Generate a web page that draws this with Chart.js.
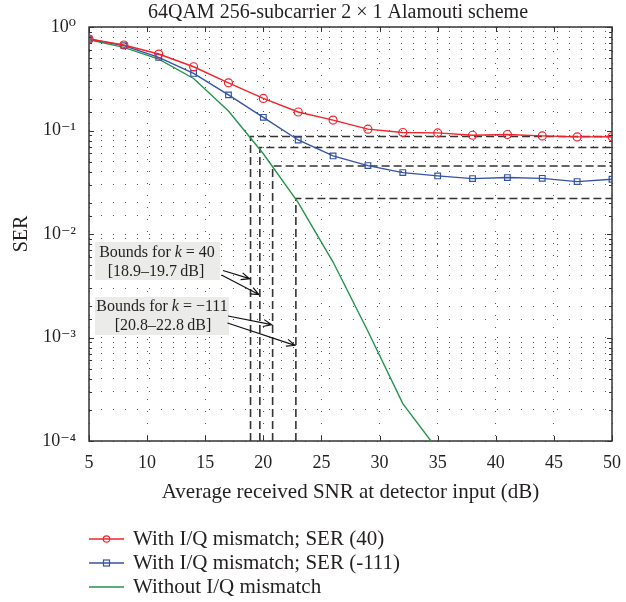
<!DOCTYPE html>
<html lang="en">
<head>
  <meta charset="UTF-8">
  <title>64QAM 256-subcarrier 2 × 1 Alamouti scheme</title>
  <script src="https://cdn.jsdelivr.net/npm/chart.js"></script>
  <style>
    html, body { margin: 0; padding: 0; background: #fff; }
    #wrap { width: 626px; height: 602px; }
  </style>
</head>
<body>

  <div id="wrap"><canvas id="serChart" width="626" height="602"></canvas></div>

  <script>
    // SNR (dB) sample points and SER values
    const snr = [5, 8, 11, 14, 17, 20, 23, 26, 29, 32, 35, 38, 41, 44, 47, 50];
    const serK40 = [0.765, 0.67, 0.548, 0.413, 0.289, 0.204, 0.151, 0.126, 0.103, 0.0957, 0.0948, 0.090, 0.0915, 0.0887, 0.0867, 0.087];
    const serK111 = [0.765, 0.66, 0.508, 0.356, 0.221, 0.134, 0.081, 0.0568, 0.0458, 0.0392, 0.0364, 0.0343, 0.0351, 0.0345, 0.0321, 0.0338];
    const snrIdeal = [5, 8, 11, 14, 17, 20, 23, 26, 29, 32, 35];
    const serIdeal = [0.753, 0.636, 0.49, 0.318, 0.154, 0.0596, 0.0201, 0.00536, 0.00115, 0.00023, 0.000082];

    // SNR bounds and the SER floors they come from
    const boundSnr = [18.9, 19.7, 20.8, 22.8];
    const boundSer = [0.0875, 0.0685, 0.0454, 0.022];

    const yTicks = [1e-4, 1e-3, 1e-2, 1e-1, 1];
    const yTickLabels = ['10⁻⁴', '10⁻³', '10⁻²', '10⁻¹', '10⁰'];

    const seriesNames = ['With I/Q mismatch; SER (40)', 'With I/Q mismatch; SER (-111)', 'Without I/Q mismatch'];

    const SERIF = '"Liberation Serif", "DejaVu Serif", serif';
    const INK = '#231f20';
    const RED = '#f2232b';
    const BLUE = '#3553a6';
    const GREEN = '#23954a';

    const toPoints = (xs, ys) => xs.map((x, i) => ({ x: x, y: ys[i] }));

    const boundSets = boundSnr.map((s, i) => ({
      label: 'bound ' + s,
      data: [{ x: s, y: 1e-4 }, { x: s, y: boundSer[i] }, { x: 50, y: boundSer[i] }],
      borderColor: '#333',
      borderWidth: 1.6,
      borderDash: [8, 4],
      pointRadius: 0,
      order: 5,
      isBound: true
    }));

    // frame + inward tick marks like the original
    const framePlugin = {
      id: 'frame',
      beforeDatasetsDraw(chart) {
        const { ctx, chartArea: a, scales: { x, y } } = chart;
        ctx.save();
        ctx.strokeStyle = '#333';
        ctx.lineWidth = 1;
        ctx.beginPath();
        x.ticks.forEach(t => {
          const px = Math.round(x.getPixelForValue(t.value)) + 0.5;
          ctx.moveTo(px, a.bottom); ctx.lineTo(px, a.bottom - 5);
          ctx.moveTo(px, a.top); ctx.lineTo(px, a.top + 5);
        });
        y.ticks.forEach(t => {
          const py = Math.round(y.getPixelForValue(t.value)) + 0.5;
          const len = t.label ? 5 : 3;
          ctx.moveTo(a.left, py); ctx.lineTo(a.left + len, py);
          ctx.moveTo(a.right, py); ctx.lineTo(a.right - len, py);
        });
        ctx.stroke();
        ctx.lineWidth = 1.5;
        ctx.strokeRect(a.left, a.top, a.right - a.left, a.bottom - a.top);
        ctx.restore();
      }
    };

    function arrow(ctx, x0, y0, x1, y1) {
      const ang = Math.atan2(y1 - y0, x1 - x0);
      const h = 9, spread = 0.4;
      ctx.beginPath();
      ctx.moveTo(x0, y0); ctx.lineTo(x1, y1);
      ctx.moveTo(x1 - h * Math.cos(ang - spread), y1 - h * Math.sin(ang - spread));
      ctx.lineTo(x1, y1);
      ctx.lineTo(x1 - h * Math.cos(ang + spread), y1 - h * Math.sin(ang + spread));
      ctx.stroke();
    }

    function boundsText(ctx, cx, baseline, kValue) {
      const parts = [['Bounds for ', 'normal'], ['k', 'italic'], [' = ' + kValue, 'normal']];
      let w = 0;
      parts.forEach(p => { ctx.font = p[1] + ' 16px ' + SERIF; w += ctx.measureText(p[0]).width; });
      let x = cx - w / 2;
      ctx.textAlign = 'left';
      parts.forEach(p => {
        ctx.font = p[1] + ' 16px ' + SERIF;
        ctx.fillText(p[0], x, baseline);
        x += ctx.measureText(p[0]).width;
      });
    }

    // title, annotation boxes with arrows, and the legend below the axes
    const notesPlugin = {
      id: 'notes',
      afterDatasetsDraw(chart) {
        const { ctx, scales: { x, y } } = chart;
        ctx.save();
        ctx.fillStyle = '#ebebea';
        ctx.fillRect(95, 242, 125, 38);
        ctx.fillRect(95, 297, 134, 38);

        ctx.fillStyle = INK;
        ctx.textBaseline = 'alphabetic';
        boundsText(ctx, 157, 257, '40');
        boundsText(ctx, 162, 311, '\u2212111');
        ctx.font = '16px ' + SERIF;
        ctx.textAlign = 'center';
        ctx.fillText('[18.9\u201319.7\u2009dB]', 156, 276);
        ctx.fillText('[20.8\u201322.8\u2009dB]', 163, 330);

        ctx.strokeStyle = '#111';
        ctx.lineWidth = 1.2;
        arrow(ctx, 223, 270.5, x.getPixelForValue(boundSnr[0]) - 1, y.getPixelForValue(0.0037));
        arrow(ctx, 221.5, 275, x.getPixelForValue(boundSnr[1]) - 1, y.getPixelForValue(0.0026));
        arrow(ctx, 228, 316, x.getPixelForValue(boundSnr[2]) - 1, y.getPixelForValue(0.00133));
        arrow(ctx, 227.5, 323, x.getPixelForValue(boundSnr[3]) - 1, y.getPixelForValue(0.00084));
        ctx.restore();
      },
      afterDraw(chart) {
        const { ctx } = chart;
        ctx.save();
        ctx.fillStyle = INK;
        ctx.font = '20px ' + SERIF;
        ctx.textAlign = 'center';
        ctx.textBaseline = 'middle';
        ctx.fillText('64QAM 256-subcarrier 2 \u00d7 1 Alamouti scheme', 338, 13);

        ctx.textAlign = 'left';
        ctx.font = '21px ' + SERIF;
        const rows = [539, 563, 587];
        chart.data.datasets.filter(d => !d.isBound).forEach((d, i) => {
          const yy = rows[i];
          ctx.strokeStyle = d.borderColor;
          ctx.lineWidth = 1.5;
          ctx.beginPath();
          ctx.moveTo(89, yy); ctx.lineTo(124, yy);
          ctx.stroke();
          ctx.lineWidth = 1.2;
          if (d.pointStyle === 'circle' && d.pointRadius > 0) {
            ctx.beginPath(); ctx.arc(106.5, yy, 3.2, 0, Math.PI * 2); ctx.stroke();
          } else if (d.pointStyle === 'rect') {
            ctx.strokeRect(103.5, yy - 3, 6, 6);
          }
          ctx.fillStyle = INK;
          ctx.fillText(d.label, 133, yy);
        });
        ctx.restore();
      }
    };

    new Chart(document.getElementById('serChart'), {
      type: 'line',
      data: {
        datasets: [
          {
            label: seriesNames[0],
            data: toPoints(snr, serK40),
            borderColor: RED,
            borderWidth: 1.4,
            pointStyle: 'circle',
            pointRadius: 4,
            pointBorderWidth: 1.2,
            pointBackgroundColor: 'rgba(0,0,0,0)',
            order: 1
          },
          {
            label: seriesNames[1],
            data: toPoints(snr, serK111),
            borderColor: BLUE,
            borderWidth: 1.4,
            pointStyle: 'rect',
            pointRadius: 4,
            pointBorderWidth: 1.2,
            pointBackgroundColor: 'rgba(0,0,0,0)',
            order: 2
          },
          {
            label: seriesNames[2],
            data: toPoints(snrIdeal, serIdeal),
            borderColor: GREEN,
            borderWidth: 1.4,
            pointStyle: 'circle',
            pointRadius: 0,
            order: 3
          },
          ...boundSets
        ]
      },
      options: {
        responsive: false,
        animation: false,
        layout: { padding: { top: 27, right: 14, bottom: 97, left: 0 } },
        plugins: {
          legend: { display: false },
          title: { display: false },
          tooltip: { enabled: false }
        },
        scales: {
          x: {
            type: 'linear',
            min: 5,
            max: 50,
            afterFit: s => { s.height = 64; s.paddingLeft = 0; s.paddingRight = 0; },
            border: { display: false, dash: [1, 11] },
            grid: { color: '#555', lineWidth: 1, drawTicks: false },
            ticks: { stepSize: 5, padding: 11, color: INK, font: { family: SERIF, size: 18 } },
            title: {
              display: true,
              text: 'Average received SNR at detector input (dB)',
              color: INK,
              padding: { top: 0, bottom: 0 },
              font: { family: SERIF, size: 21 }
            }
          },
          y: {
            type: 'logarithmic',
            min: 1e-4,
            max: 1,
            afterFit: s => { s.width = 89; s.paddingTop = 0; s.paddingBottom = 0; },
            border: { display: false, dash: [1, 11] },
            grid: { color: '#555', lineWidth: 1, drawTicks: false },
            ticks: {
              autoSkip: false,
              padding: 13,
              color: INK,
              font: { family: SERIF, size: 18 },
              callback: v => {
                const i = yTicks.findIndex(t => Math.abs(Math.log10(v) - Math.log10(t)) < 1e-6);
                return i >= 0 ? yTickLabels[i] : '';
              }
            },
            title: {
              display: true,
              text: 'SER',
              color: INK,
              padding: { top: 10, bottom: 0 },
              font: { family: SERIF, size: 20 }
            }
          }
        }
      },
      plugins: [framePlugin, notesPlugin]
    });
  </script>

</body>
</html>
